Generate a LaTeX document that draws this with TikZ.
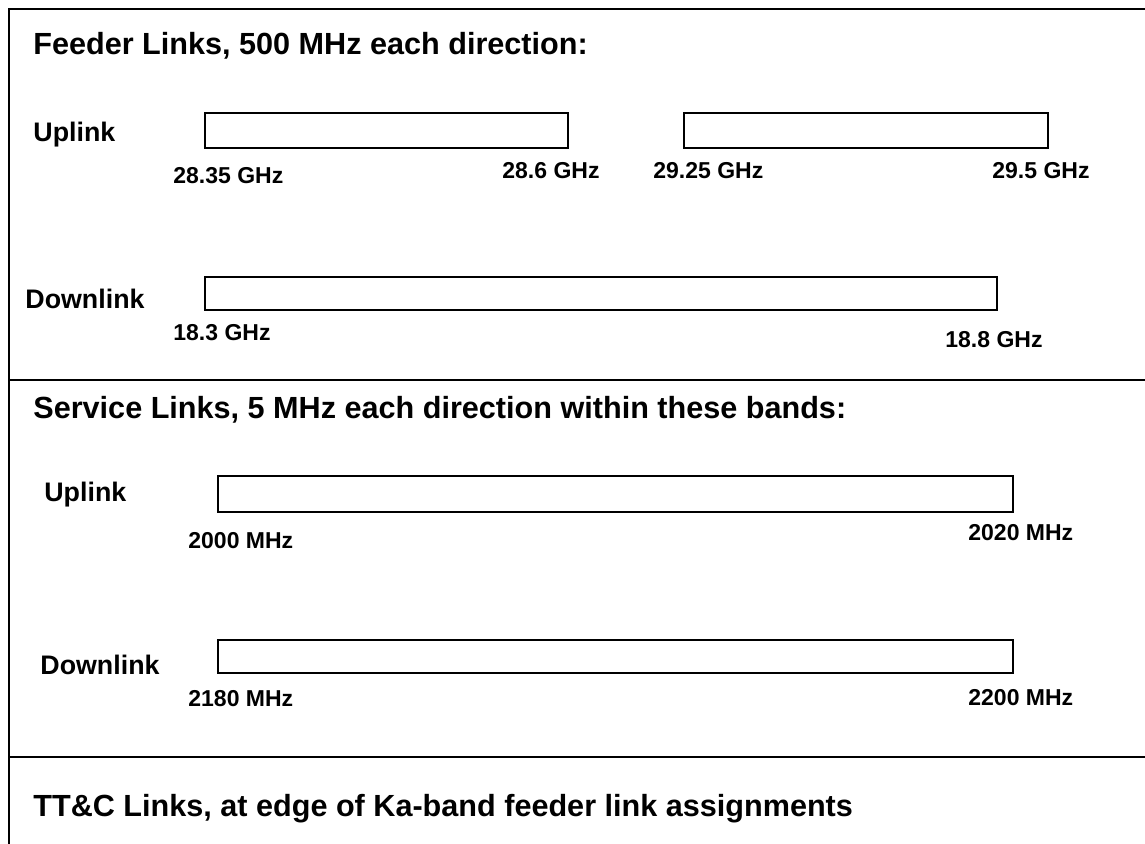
\documentclass[tikz,border=0pt]{standalone}
\usepackage{fontspec}
\setmainfont{Liberation Sans}
\begin{document}
\begin{tikzpicture}[x=0.5pt,y=-0.5pt,
  heading/.style={anchor=base west, inner sep=0pt, font=\bfseries\fontsize{15.3}{18}\selectfont},
  linkname/.style={anchor=base west, inner sep=0pt, font=\bfseries\fontsize{13.4}{16}\selectfont},
  freq/.style={anchor=base west, inner sep=0pt, font=\bfseries\fontsize{11.5}{14}\selectfont},
  band/.style={draw, line width=0.6pt, inner sep=0pt, minimum height=17pt},
  rule/.style={line width=1pt}]
\useasboundingbox (0,0) rectangle (1145,844);

% frame and section rules
\coordinate (topleft) at (9,9);
\coordinate (topright) at (1145,9);
\coordinate (botleft) at (9,844);
\coordinate (sepAleft) at (9,380);
\coordinate (sepAright) at (1145,380);
\coordinate (sepBleft) at (9,757);
\coordinate (sepBright) at (1145,757);
\draw[rule] (botleft) -- (topleft) -- (topright);
\draw[rule] (sepAleft) -- (sepAright);
\draw[rule] (sepBleft) -- (sepBright);

% feeder links
\node[heading] (feedtitle) at (33,55) {Feeder Links, 500 MHz each direction:};
\node[linkname] (feedup) at (33,142) {Uplink};
\node[band, minimum width=181.5pt, minimum height=17.5pt] (feedupA) at (386.5,130.5) {};
\node[band, minimum width=182pt, minimum height=17.5pt] (feedupB) at (866,130.5) {};
\node[freq] (fuA1) at (173,184) {28.35 GHz};
\node[freq] (fuA2) at (502,179) {28.6 GHz};
\node[freq] (fuB1) at (653,179) {29.25 GHz};
\node[freq] (fuB2) at (992,179) {29.5 GHz};

\node[linkname] (feeddown) at (25,309) {Downlink};
\node[band, minimum width=396pt, minimum height=16.5pt] (feeddownA) at (601,293.5) {};
\node[freq] (fd1) at (173,341) {18.3 GHz};
\node[freq] (fd2) at (945,348) {18.8 GHz};

% service links
\node[heading] (servtitle) at (33,418) {Service Links, 5 MHz each direction within these bands:};
\node[linkname] (servup) at (44,501) {Uplink};
\node[band, minimum width=397.5pt, minimum height=18pt] (servupA) at (615.5,494) {};
\node[freq] (su1) at (188,548) {2000 MHz};
\node[freq] (su2) at (968,540) {2020 MHz};

\node[linkname] (servdown) at (40,674) {Downlink};
\node[band, minimum width=397.5pt, minimum height=16.5pt] (servdownA) at (615.5,656.5) {};
\node[freq] (sd1) at (188,706) {2180 MHz};
\node[freq] (sd2) at (968,705) {2200 MHz};

% tt&c links
\node[heading] (ttctitle) at (33,816) {TT\&C Links, at edge of Ka-band feeder link assignments};
\end{tikzpicture}
\end{document}
